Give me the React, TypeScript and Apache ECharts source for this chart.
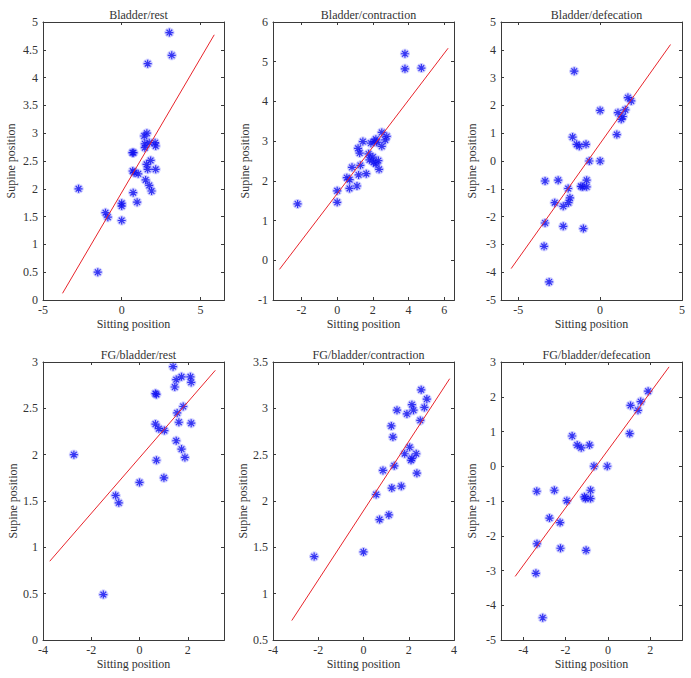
import React, { useEffect, useRef } from "react";
import * as echarts from "echarts";

const titles = [
  "Bladder/rest",
  "Bladder/contraction",
  "Bladder/defecation",
  "FG/bladder/rest",
  "FG/bladder/contraction",
  "FG/bladder/defecation",
];

const p1X = [3.03, 3.18, 1.65, 1.43, 1.6, 1.47, 1.75, 2.12, 2.16, 1.47, 0.68, 0.75, 1.84, 1.58, 1.65, 2.16, 0.7, 0.79, 1.05, 1.52, 1.75, 1.9, 0.73, -2.74, 0.0, 0.0, 0.98, -1.03, -0.88, 0.0, -1.52];
const p1Y = [4.81, 4.4, 4.25, 2.95, 3.0, 2.81, 2.83, 2.83, 2.77, 2.74, 2.65, 2.65, 2.51, 2.44, 2.35, 2.35, 2.32, 2.29, 2.27, 2.16, 2.06, 1.96, 1.93, 2.0, 1.74, 1.69, 1.76, 1.57, 1.49, 1.43, 0.5];
const p1Line = [[-3.76, 0.12], [5.88, 4.77]];

const p2X = [3.8, 3.8, 4.72, 2.5, 2.78, 2.69, 2.17, 2.07, 2.22, 1.89, 1.44, 2.5, 1.17, 1.26, 1.76, 2.0, 1.81, 2.04, 2.17, 2.31, 2.35, 0.83, 1.3, 1.2, 1.63, 0.54, 0.7, 0.69, 1.11, 0.0, 0.0, -2.22];
const p2Y = [5.2, 4.82, 4.84, 3.22, 3.12, 3.03, 3.05, 2.99, 2.97, 2.95, 2.99, 2.87, 2.82, 2.7, 2.68, 2.6, 2.53, 2.47, 2.43, 2.51, 2.29, 2.34, 2.39, 2.15, 2.18, 2.08, 2.03, 1.81, 1.87, 1.75, 1.46, 1.42];
const p2Line = [[-3.24, -0.23], [6.22, 5.34]];

const p3X = [-1.58, 1.7, 1.9, 1.54, 1.09, 1.39, 1.29, 0.0, 1.02, -1.68, -1.43, -1.27, -0.86, -0.66, 0.0, -3.36, -2.56, -0.82, -1.17, -1.07, -0.82, -1.95, -1.84, -1.93, -2.77, -2.25, -3.36, -2.25, -1.02, -3.42, -3.11];
const p3Y = [3.23, 2.28, 2.16, 1.84, 1.74, 1.6, 1.5, 1.82, 0.95, 0.86, 0.6, 0.53, 0.6, 0.0, 0.0, -0.72, -0.69, -0.69, -0.91, -0.93, -0.93, -0.99, -1.33, -1.5, -1.5, -1.63, -2.23, -2.35, -2.43, -3.07, -4.35];
const p3Line = [[-5.43, -3.87], [4.3, 4.19]];

const p4X = [1.39, 1.52, 1.74, 2.11, 2.14, 1.46, 0.66, 0.7, 1.81, 1.56, 1.63, 2.14, 0.66, 0.8, 1.03, 1.52, 1.74, 1.88, 0.7, 1.01, -2.72, 0.0, -0.99, -0.86, -1.5];
const p4Y = [2.95, 2.81, 2.84, 2.84, 2.78, 2.73, 2.66, 2.65, 2.52, 2.45, 2.35, 2.34, 2.33, 2.28, 2.26, 2.15, 2.06, 1.97, 1.94, 1.75, 2.0, 1.7, 1.56, 1.48, 0.49];
const p4Line = [[-3.72, 0.85], [3.14, 2.91]];

const p5X = [2.55, 2.8, 2.14, 2.69, 2.21, 1.48, 1.92, 2.51, 1.23, 1.3, 2.04, 1.82, 2.33, 2.14, 2.1, 1.36, 2.36, 0.86, 1.25, 1.67, 0.56, 1.12, 0.71, 0.0, -2.18];
const p5Y = [3.2, 3.1, 3.04, 3.01, 2.98, 2.98, 2.94, 2.87, 2.81, 2.69, 2.58, 2.51, 2.51, 2.46, 2.44, 2.38, 2.3, 2.33, 2.14, 2.16, 2.07, 1.85, 1.8, 1.45, 1.4];
const p5Line = [[-3.17, 0.71], [3.81, 3.32]];

const p6X = [1.9, 1.55, 1.07, 1.42, 1.03, -1.69, -1.45, -1.26, -0.87, -0.66, -0.03, -3.36, -2.53, -0.82, -1.11, -1.06, -0.82, -1.94, -2.76, -2.26, -3.35, -2.24, -1.03, -3.4, -3.08];
const p6Y = [2.16, 1.86, 1.75, 1.61, 0.94, 0.87, 0.61, 0.53, 0.61, 0.0, 0.0, -0.72, -0.69, -0.69, -0.88, -0.93, -0.93, -0.99, -1.49, -1.62, -2.23, -2.36, -2.42, -3.08, -4.36];
const p6Line = [[-4.38, -3.17], [2.89, 2.86]];

const xTicks = [
  [-5, 0, 5],
  [-2, 0, 2, 4, 6],
  [-5, 0, 5],
  [-4, -2, 0, 2],
  [-4, -2, 0, 2, 4],
  [-4, -2, 0, 2],
];
const yTicks = [
  [0, 0.5, 1, 1.5, 2, 2.5, 3, 3.5, 4, 4.5, 5],
  [-1, 0, 1, 2, 3, 4, 5, 6],
  [-5, -4, -3, -2, -1, 0, 1, 2, 3, 4, 5],
  [0, 0.5, 1, 1.5, 2, 2.5, 3],
  [0.5, 1, 1.5, 2, 2.5, 3, 3.5],
  [-5, -4, -3, -2, -1, 0, 1, 2, 3],
];
const xSteps = [5, 2, 5, 2, 2, 2];
const ySteps = [0.5, 1, 1, 0.5, 0.5, 1];
const xRanges = [
  [-5, 6.5],
  [-3.6, 6.55],
  [-6.05, 5],
  [-4, 3.5],
  [-4, 4],
  [-5.05, 3.5],
];
const yRanges = [
  [0, 5],
  [-1, 6],
  [-5, 5],
  [0, 3],
  [0.5, 3.5],
  [-5, 3],
];

const panelsX = [p1X, p2X, p3X, p4X, p5X, p6X];
const panelsY = [p1Y, p2Y, p3Y, p4Y, p5Y, p6Y];
const panelsLine = [p1Line, p2Line, p3Line, p4Line, p5Line, p6Line];

const gridLefts = [43, 273, 501, 43, 273, 501];
const gridTops = [22, 22, 22, 362, 362, 362];
const gridW = 181;
const gridH = 278;
const yNameGaps = [26, 22, 23, 24, 24, 23];

const FONT = "Liberation Serif";
const STAR = "path://M5,0L5,10M0,5L10,5M1.5,1.5L8.5,8.5M1.5,8.5L8.5,1.5";
const AXIS_COLOR = "#3a3a3a";

const labelFilter = (ticks: number[]) => (v: number) =>
  ticks.some((t) => Math.abs(t - v) < 1e-6) ? String(Math.round(v * 100) / 100) : "";

export default function App() {
  const ref = useRef<HTMLDivElement>(null);
  useEffect(() => {
    if (!ref.current) return;
    const chart = echarts.init(ref.current, null, { renderer: "svg" });
    const grid: any[] = [];
    const xAxis: any[] = [];
    const yAxis: any[] = [];
    const series: any[] = [];
    const title: any[] = [];
    const frames: any[] = [];
    const mkLine = () => ({ show: true, onZero: false, lineStyle: { color: AXIS_COLOR, width: 1 } });
    const tick = () => ({
      show: true,
      inside: true,
      length: 3,
      lineStyle: { color: AXIS_COLOR, width: 1 },
    });
    for (let i = 0; i < 6; i++) {
      grid.push({
        left: gridLefts[i],
        top: gridTops[i],
        width: gridW,
        height: gridH,
      });
      frames.push({
        type: "rect",
        silent: true,
        z: 100,
        shape: { x: gridLefts[i] + 0.5, y: gridTops[i] + 0.5, width: gridW, height: gridH },
        style: { fill: "none", stroke: AXIS_COLOR, lineWidth: 1 },
      });
      title.push({
        text: titles[i],
        left: gridLefts[i] + gridW / 2,
        top: gridTops[i] - 18,
        textAlign: "center",
        textStyle: { fontFamily: FONT, fontSize: 12, fontWeight: "normal", color: "#333" },
      });
      const xBase = {
        type: "value",
        gridIndex: i,
        min: xRanges[i][0],
        max: xRanges[i][1],
        minInterval: xSteps[i],
        maxInterval: xSteps[i],
        axisLine: mkLine(),
        axisTick: tick(),
        splitLine: { show: false },
      };
      const yBase = {
        type: "value",
        gridIndex: i,
        min: yRanges[i][0],
        max: yRanges[i][1],
        minInterval: ySteps[i],
        maxInterval: ySteps[i],
        axisLine: mkLine(),
        axisTick: tick(),
        splitLine: { show: false },
      };
      const xi = xAxis.length;
      xAxis.push({
        ...xBase,
        position: "bottom",
        name: "Sitting position",
        nameLocation: "middle",
        nameGap: 18,
        nameTextStyle: { fontFamily: FONT, fontSize: 12, color: "#333" },
        axisLabel: {
          fontFamily: FONT,
          fontSize: 12,
          color: "#333",
          margin: 4,
          showMinLabel: true,
          showMaxLabel: true,
          formatter: labelFilter(xTicks[i]),
        },
      });
      xAxis.push({ ...xBase, position: "top", axisLabel: { show: false } });
      const yi = yAxis.length;
      yAxis.push({
        ...yBase,
        position: "left",
        name: "Supine position",
        nameLocation: "middle",
        nameGap: yNameGaps[i],
        nameTextStyle: { fontFamily: FONT, fontSize: 12, color: "#333" },
        axisLabel: {
          fontFamily: FONT,
          fontSize: 12,
          color: "#333",
          margin: 5,
          showMinLabel: true,
          showMaxLabel: true,
          formatter: labelFilter(yTicks[i]),
        },
      });
      yAxis.push({ ...yBase, position: "right", axisLabel: { show: false } });
      const pts = panelsX[i].map((x, k) => [x, panelsY[i][k]]);
      series.push({
        type: "scatter",
        xAxisIndex: xi + 1,
        yAxisIndex: yi + 1,
        data: [],
        silent: true,
      });
      series.push({
        type: "line",
        xAxisIndex: xi,
        yAxisIndex: yi,
        data: panelsLine[i],
        symbol: "none",
        lineStyle: { color: "#e8242b", width: 1 },
      });
      series.push({
        type: "scatter",
        xAxisIndex: xi,
        yAxisIndex: yi,
        data: pts,
        symbol: STAR,
        symbolSize: 10,
        itemStyle: { color: "rgba(0,0,0,0)", borderColor: "rgba(110,110,255,0.45)", borderWidth: 3 },
      });
      series.push({
        type: "scatter",
        xAxisIndex: xi,
        yAxisIndex: yi,
        data: pts,
        symbol: STAR,
        symbolSize: 8,
        itemStyle: { color: "rgba(0,0,0,0)", borderColor: "#1010f0", borderWidth: 1.2 },
      });
    }
    chart.setOption({
      animation: false,
      title,
      grid,
      xAxis,
      yAxis,
      series,
      graphic: { elements: frames },
    });
    return () => chart.dispose();
  }, []);
  return (
    <div
      ref={ref}
      style={{ position: "fixed", left: 0, top: 0, width: 691, height: 678, background: "#fff" }}
    />
  );
}
